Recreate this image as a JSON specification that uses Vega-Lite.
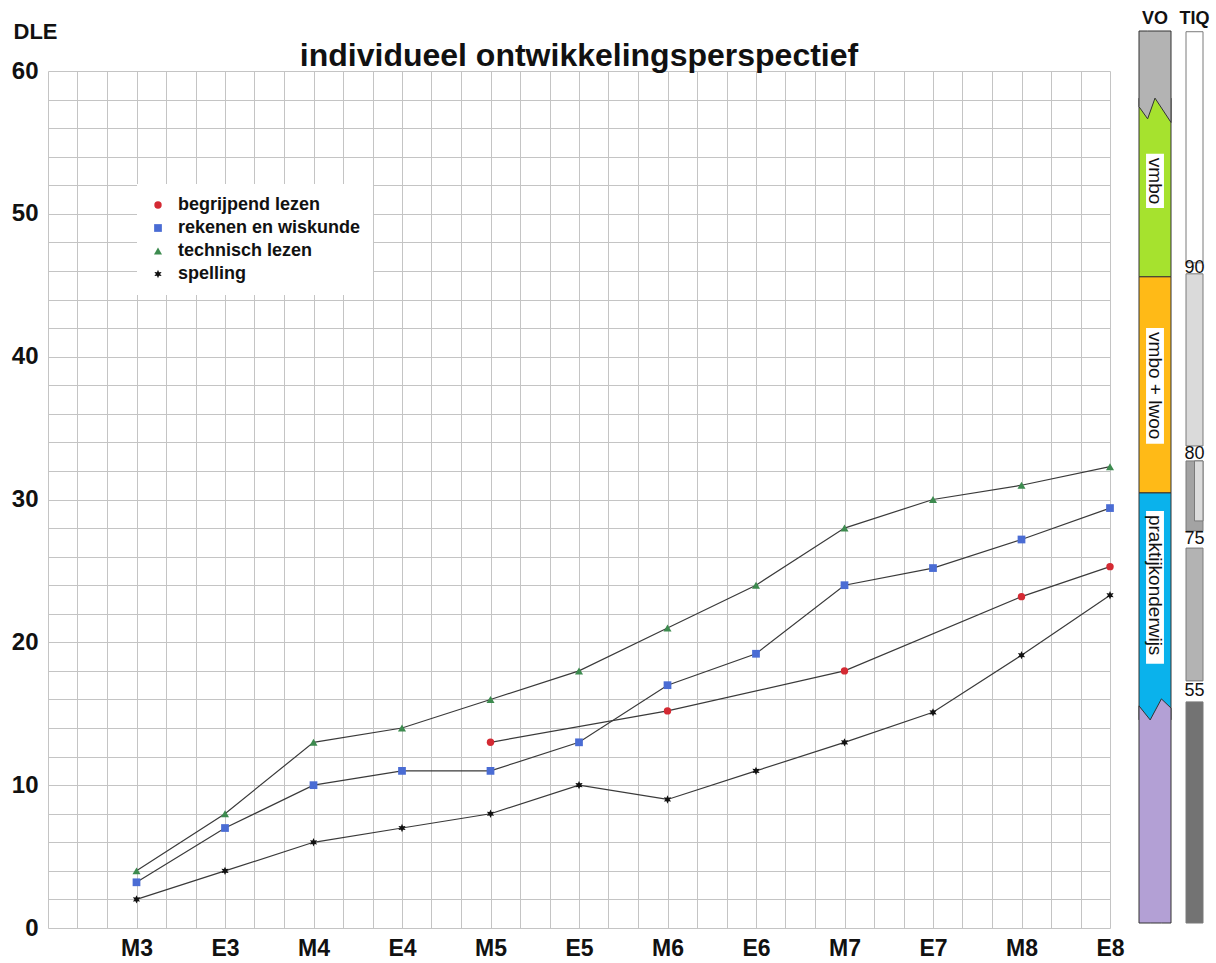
{
  "$schema": "https://vega.github.io/schema/vega-lite/v6.json",
  "background": "white",
  "padding": {"left": 11, "top": 9, "right": 5, "bottom": 5},
  "bounds": "flush",
  "spacing": 29,
  "resolve": {
    "scale": {"color": "independent", "shape": "independent", "size": "independent"},
    "legend": {"color": "independent", "shape": "independent", "size": "independent"}
  },
  "config": {
    "view": {"stroke": null},
    "font": "Liberation Sans",
    "axis": {
      "labelOverlap": false,
      "labelFlush": false,
      "labelBound": false,
      "ticks": false,
      "domain": false,
      "grid": true,
      "gridColor": "#c4c4c4",
      "gridWidth": 1,
      "labelFont": "Liberation Sans",
      "labelFontWeight": "bold",
      "labelColor": "#111111",
      "titleFont": "Liberation Sans",
      "titleFontWeight": "bold",
      "titleColor": "#111111"
    },
    "axisX": {
      "tickCount": 200,
      "labelFontSize": 23,
      "labelPadding": 9
    },
    "axisY": {
      "tickCount": 200,
      "labelFontSize": 24,
      "labelPadding": 10,
      "titleAngle": 0,
      "titleX": -35,
      "titleY": -40,
      "titleAlign": "left",
      "titleBaseline": "middle",
      "titleFontSize": 22
    },
    "legend": {
      "orient": "none",
      "legendX": 89,
      "legendY": 113,
      "fillColor": "white",
      "padding": 12,
      "labelFont": "Liberation Sans",
      "labelFontSize": 18,
      "labelFontWeight": "bold",
      "labelColor": "#111111",
      "labelOffset": 11,
      "labelLimit": 400,
      "rowPadding": 5,
      "symbolSize": 32,
      "symbolStrokeWidth": 0
    }
  },
  "datasets": {
    "scores": [
      {"meting": "M5", "pos": 5, "vak": "begrijpend lezen", "dle": 13},
      {"meting": "M6", "pos": 7, "vak": "begrijpend lezen", "dle": 15.2},
      {"meting": "M7", "pos": 9, "vak": "begrijpend lezen", "dle": 18},
      {"meting": "M8", "pos": 11, "vak": "begrijpend lezen", "dle": 23.2},
      {"meting": "E8", "pos": 12, "vak": "begrijpend lezen", "dle": 25.3},
      {"meting": "M3", "pos": 1, "vak": "rekenen en wiskunde", "dle": 3.2},
      {"meting": "E3", "pos": 2, "vak": "rekenen en wiskunde", "dle": 7},
      {"meting": "M4", "pos": 3, "vak": "rekenen en wiskunde", "dle": 10},
      {"meting": "E4", "pos": 4, "vak": "rekenen en wiskunde", "dle": 11},
      {"meting": "M5", "pos": 5, "vak": "rekenen en wiskunde", "dle": 11},
      {"meting": "E5", "pos": 6, "vak": "rekenen en wiskunde", "dle": 13},
      {"meting": "M6", "pos": 7, "vak": "rekenen en wiskunde", "dle": 17},
      {"meting": "E6", "pos": 8, "vak": "rekenen en wiskunde", "dle": 19.2},
      {"meting": "M7", "pos": 9, "vak": "rekenen en wiskunde", "dle": 24},
      {"meting": "E7", "pos": 10, "vak": "rekenen en wiskunde", "dle": 25.2},
      {"meting": "M8", "pos": 11, "vak": "rekenen en wiskunde", "dle": 27.2},
      {"meting": "E8", "pos": 12, "vak": "rekenen en wiskunde", "dle": 29.4},
      {"meting": "M3", "pos": 1, "vak": "technisch lezen", "dle": 4},
      {"meting": "E3", "pos": 2, "vak": "technisch lezen", "dle": 8},
      {"meting": "M4", "pos": 3, "vak": "technisch lezen", "dle": 13},
      {"meting": "E4", "pos": 4, "vak": "technisch lezen", "dle": 14},
      {"meting": "M5", "pos": 5, "vak": "technisch lezen", "dle": 16},
      {"meting": "E5", "pos": 6, "vak": "technisch lezen", "dle": 18},
      {"meting": "M6", "pos": 7, "vak": "technisch lezen", "dle": 21},
      {"meting": "E6", "pos": 8, "vak": "technisch lezen", "dle": 24},
      {"meting": "M7", "pos": 9, "vak": "technisch lezen", "dle": 28},
      {"meting": "E7", "pos": 10, "vak": "technisch lezen", "dle": 30},
      {"meting": "M8", "pos": 11, "vak": "technisch lezen", "dle": 31},
      {"meting": "E8", "pos": 12, "vak": "technisch lezen", "dle": 32.3},
      {"meting": "M3", "pos": 1, "vak": "spelling", "dle": 2},
      {"meting": "E3", "pos": 2, "vak": "spelling", "dle": 4},
      {"meting": "M4", "pos": 3, "vak": "spelling", "dle": 6},
      {"meting": "E4", "pos": 4, "vak": "spelling", "dle": 7},
      {"meting": "M5", "pos": 5, "vak": "spelling", "dle": 8},
      {"meting": "E5", "pos": 6, "vak": "spelling", "dle": 10},
      {"meting": "M6", "pos": 7, "vak": "spelling", "dle": 9},
      {"meting": "E6", "pos": 8, "vak": "spelling", "dle": 11},
      {"meting": "M7", "pos": 9, "vak": "spelling", "dle": 13},
      {"meting": "E7", "pos": 10, "vak": "spelling", "dle": 15.1},
      {"meting": "M8", "pos": 11, "vak": "spelling", "dle": 19.1},
      {"meting": "E8", "pos": 12, "vak": "spelling", "dle": 23.3}
    ],
    "vo": [
      {"niveau": "vmbo", "van": 45.59, "tot": 58.1, "kaderVan": 50.4, "kaderTot": 54.2},
      {"niveau": "vmbo + lwoo", "van": 30.46, "tot": 45.59, "kaderVan": 33.9, "kaderTot": 42.0},
      {"niveau": "praktijkonderwijs", "van": 14.57, "tot": 30.46, "kaderVan": 18.5, "kaderTot": 29.2}
    ],
    "voBoven": [
      {"f": 0, "grens": 57.5, "rand": 62.8},
      {"f": 0.27, "grens": 56.65, "rand": 62.8},
      {"f": 0.5, "grens": 58.1, "rand": 62.8},
      {"f": 1, "grens": 56.4, "rand": 62.8}
    ],
    "voOnder": [
      {"f": 0, "grens": 15.55, "rand": 0.35},
      {"f": 0.35, "grens": 14.57, "rand": 0.35},
      {"f": 0.7, "grens": 16.04, "rand": 0.35},
      {"f": 1, "grens": 15.4, "rand": 0.35}
    ],
    "tiq": [
      {"klasse": "boven 90", "van": 46.57, "tot": 62.75, "links": 0, "rechts": 1},
      {"klasse": "80-90", "van": 33.75, "tot": 45.8, "links": 0, "rechts": 1},
      {"klasse": "75-80", "van": 27.8, "tot": 32.7, "links": 0, "rechts": 1},
      {"klasse": "75-80 deels", "van": 28.5, "tot": 32.7, "links": 0.5, "rechts": 1},
      {"klasse": "55-75", "van": 17.3, "tot": 26.6, "links": 0, "rechts": 1},
      {"klasse": "onder 55", "van": 0.35, "tot": 15.83, "links": 0, "rechts": 1}
    ],
    "tiqGrenzen": [
      {"tiq": "90", "at": 46.2},
      {"tiq": "80", "at": 33.2},
      {"tiq": "75", "at": 27.24},
      {"tiq": "55", "at": 16.6}
    ]
  },
  "hconcat": [
    {
      "width": 1062,
      "height": 857,
      "layer": [
        {
          "data": {"name": "scores"},
          "mark": {"type": "line", "color": "#3a3a3a", "strokeWidth": 1.2},
          "encoding": {
            "x": {
              "field": "pos",
              "type": "quantitative",
              "scale": {"domain": [0, 12], "nice": false, "zero": false},
              "axis": {
                "title": null,
                "values": [0, 0.3333, 0.6667, 1, 1.3333, 1.6667, 2, 2.3333, 2.6667, 3, 3.3333, 3.6667, 4, 4.3333, 4.6667, 5, 5.3333, 5.6667, 6, 6.3333, 6.6667, 7, 7.3333, 7.6667, 8, 8.3333, 8.6667, 9, 9.3333, 9.6667, 10, 10.3333, 10.6667, 11, 11.3333, 11.6667, 12],
                "labelExpr": "abs(datum.value - round(datum.value)) < 0.01 && datum.value > 0.5 ? ['M3','E3','M4','E4','M5','E5','M6','E6','M7','E7','M8','E8'][round(datum.value) - 1] : ''"
              }
            },
            "y": {
              "field": "dle",
              "type": "quantitative",
              "scale": {"domain": [0, 60], "nice": false},
              "axis": {
                "title": "DLE",
                "values": [0, 2, 4, 6, 8, 10, 12, 14, 16, 18, 20, 22, 24, 26, 28, 30, 32, 34, 36, 38, 40, 42, 44, 46, 48, 50, 52, 54, 56, 58, 60],
                "labelExpr": "datum.value % 10 == 0 ? format(datum.value, 'd') : ''"
              }
            },
            "detail": {"field": "vak", "type": "nominal"}
          }
        },
        {
          "data": {"name": "scores"},
          "mark": {"type": "point", "filled": true, "opacity": 1},
          "encoding": {
            "x": {
              "field": "pos",
              "type": "quantitative",
              "axis": {
                "title": null,
                "values": [0, 0.3333, 0.6667, 1, 1.3333, 1.6667, 2, 2.3333, 2.6667, 3, 3.3333, 3.6667, 4, 4.3333, 4.6667, 5, 5.3333, 5.6667, 6, 6.3333, 6.6667, 7, 7.3333, 7.6667, 8, 8.3333, 8.6667, 9, 9.3333, 9.6667, 10, 10.3333, 10.6667, 11, 11.3333, 11.6667, 12],
                "labelExpr": "abs(datum.value - round(datum.value)) < 0.01 && datum.value > 0.5 ? ['M3','E3','M4','E4','M5','E5','M6','E6','M7','E7','M8','E8'][round(datum.value) - 1] : ''"
              }
            },
            "y": {
              "field": "dle",
              "type": "quantitative",
              "axis": {
                "title": "DLE",
                "values": [0, 2, 4, 6, 8, 10, 12, 14, 16, 18, 20, 22, 24, 26, 28, 30, 32, 34, 36, 38, 40, 42, 44, 46, 48, 50, 52, 54, 56, 58, 60],
                "labelExpr": "datum.value % 10 == 0 ? format(datum.value, 'd') : ''"
              }
            },
            "color": {
              "field": "vak",
              "type": "nominal",
              "scale": {
                "domain": ["begrijpend lezen", "rekenen en wiskunde", "technisch lezen", "spelling"],
                "range": ["#d42a33", "#4a6cd4", "#3d8b4f", "#111111"]
              },
              "legend": {"title": null}
            },
            "shape": {
              "field": "vak",
              "type": "nominal",
              "scale": {
                "domain": ["begrijpend lezen", "rekenen en wiskunde", "technisch lezen", "spelling"],
                "range": ["circle", "square", "triangle-up", "M0,-1L0.25,-0.433L0.866,-0.5L0.5,0L0.866,0.5L0.25,0.433L0,1L-0.25,0.433L-0.866,0.5L-0.5,0L-0.866,-0.5L-0.25,-0.433Z"]
              },
              "legend": {"title": null}
            },
            "size": {
              "field": "vak",
              "type": "nominal",
              "scale": {
                "domain": ["begrijpend lezen", "rekenen en wiskunde", "technisch lezen", "spelling"],
                "range": [55, 70, 65, 100]
              },
              "legend": null
            }
          }
        },
        {
          "data": {"values": [{"titel": "individueel ontwikkelingsperspectief"}]},
          "mark": {"type": "text", "align": "center", "baseline": "middle", "font": "Liberation Sans", "fontSize": 32, "fontWeight": "bold", "color": "#111111"},
          "encoding": {
            "x": {
              "datum": 6,
              "type": "quantitative",
              "axis": {
                "title": null,
                "values": [0, 0.3333, 0.6667, 1, 1.3333, 1.6667, 2, 2.3333, 2.6667, 3, 3.3333, 3.6667, 4, 4.3333, 4.6667, 5, 5.3333, 5.6667, 6, 6.3333, 6.6667, 7, 7.3333, 7.6667, 8, 8.3333, 8.6667, 9, 9.3333, 9.6667, 10, 10.3333, 10.6667, 11, 11.3333, 11.6667, 12],
                "labelExpr": "abs(datum.value - round(datum.value)) < 0.01 && datum.value > 0.5 ? ['M3','E3','M4','E4','M5','E5','M6','E6','M7','E7','M8','E8'][round(datum.value) - 1] : ''"
              }
            },
            "y": {
              "datum": 61.06,
              "type": "quantitative",
              "axis": {
                "title": "DLE",
                "values": [0, 2, 4, 6, 8, 10, 12, 14, 16, 18, 20, 22, 24, 26, 28, 30, 32, 34, 36, 38, 40, 42, 44, 46, 48, 50, 52, 54, 56, 58, 60],
                "labelExpr": "datum.value % 10 == 0 ? format(datum.value, 'd') : ''"
              }
            },
            "text": {"field": "titel"}
          }
        }
      ]
    },
    {
      "hconcat": [
        {
          "width": 32,
          "height": 857,
          "layer": [
            {
              "data": {"name": "vo"},
              "mark": {"type": "rect", "stroke": "#333333", "strokeWidth": 1},
              "encoding": {
                "x": {"datum": 0, "type": "quantitative", "scale": {"domain": [0, 1], "nice": false, "zero": false}, "axis": null},
                "x2": {"datum": 1},
                "y": {"field": "van", "type": "quantitative", "scale": {"domain": [0, 60], "nice": false}, "axis": null},
                "y2": {"field": "tot"},
                "color": {
                  "field": "niveau",
                  "type": "nominal",
                  "scale": {"domain": ["vmbo", "vmbo + lwoo", "praktijkonderwijs"], "range": ["#a6e22e", "#ffba17", "#0ab2ec"]},
                  "legend": null
                }
              }
            },
            {
              "data": {"name": "voBoven"},
              "mark": {"type": "area", "color": "#b3b3b3", "stroke": "#333333", "strokeWidth": 1},
              "encoding": {
                "x": {"field": "f", "type": "quantitative", "axis": null},
                "y": {"field": "grens", "type": "quantitative", "axis": null},
                "y2": {"field": "rand"}
              }
            },
            {
              "data": {"name": "voOnder"},
              "mark": {"type": "area", "color": "#b3a0d5", "stroke": "#333333", "strokeWidth": 1},
              "encoding": {
                "x": {"field": "f", "type": "quantitative", "axis": null},
                "y": {"field": "grens", "type": "quantitative", "axis": null},
                "y2": {"field": "rand"}
              }
            },
            {
              "data": {"name": "vo"},
              "mark": {"type": "rect", "color": "white"},
              "encoding": {
                "x": {"datum": 0.22, "type": "quantitative", "axis": null},
                "x2": {"datum": 0.78},
                "y": {"field": "kaderVan", "type": "quantitative", "axis": null},
                "y2": {"field": "kaderTot"}
              }
            },
            {
              "data": {"name": "vo"},
              "mark": {"type": "text", "angle": 90, "align": "left", "baseline": "middle", "dx": 4, "font": "Liberation Sans", "fontSize": 19, "color": "#111111"},
              "encoding": {
                "x": {"datum": 0.5, "type": "quantitative", "axis": null},
                "y": {"field": "kaderTot", "type": "quantitative", "axis": null},
                "text": {"field": "niveau"}
              }
            },
            {
              "data": {"values": [{"kop": "VO"}]},
              "mark": {"type": "text", "align": "center", "baseline": "middle", "font": "Liberation Sans", "fontSize": 18, "fontWeight": "bold", "color": "#111111"},
              "encoding": {
                "x": {"datum": 0.5, "type": "quantitative", "axis": null},
                "y": {"datum": 63.65, "type": "quantitative", "axis": null},
                "text": {"field": "kop"}
              }
            }
          ]
        },
        {
          "width": 17,
          "height": 857,
          "layer": [
            {
              "data": {"name": "tiq"},
              "mark": {"type": "rect", "stroke": "#7a7a7a", "strokeWidth": 1},
              "encoding": {
                "x": {"field": "links", "type": "quantitative", "scale": {"domain": [0, 1], "nice": false, "zero": false}, "axis": null},
                "x2": {"field": "rechts"},
                "y": {"field": "van", "type": "quantitative", "scale": {"domain": [0, 60], "nice": false}, "axis": null},
                "y2": {"field": "tot"},
                "color": {
                  "field": "klasse",
                  "type": "nominal",
                  "scale": {"domain": ["boven 90", "80-90", "75-80", "75-80 deels", "55-75", "onder 55"], "range": ["#ffffff", "#dadada", "#a3a3a3", "#dcdcdc", "#b3b3b3", "#737373"]},
                  "legend": null
                }
              }
            },
            {
              "data": {"name": "tiqGrenzen"},
              "mark": {"type": "text", "align": "center", "baseline": "middle", "font": "Liberation Sans", "fontSize": 18, "color": "#111111"},
              "encoding": {
                "x": {"datum": 0.5, "type": "quantitative", "axis": null},
                "y": {"field": "at", "type": "quantitative", "axis": null},
                "text": {"field": "tiq"}
              }
            },
            {
              "data": {"values": [{"kop": "TIQ"}]},
              "mark": {"type": "text", "align": "center", "baseline": "middle", "font": "Liberation Sans", "fontSize": 18, "fontWeight": "bold", "color": "#111111"},
              "encoding": {
                "x": {"datum": 0.5, "type": "quantitative", "axis": null},
                "y": {"datum": 63.65, "type": "quantitative", "axis": null},
                "text": {"field": "kop"}
              }
            }
          ]
        }
      ],
      "spacing": 15,
      "bounds": "flush",
      "resolve": {"scale": {"color": "independent"}, "legend": {"color": "independent"}}
    }
  ]
}
